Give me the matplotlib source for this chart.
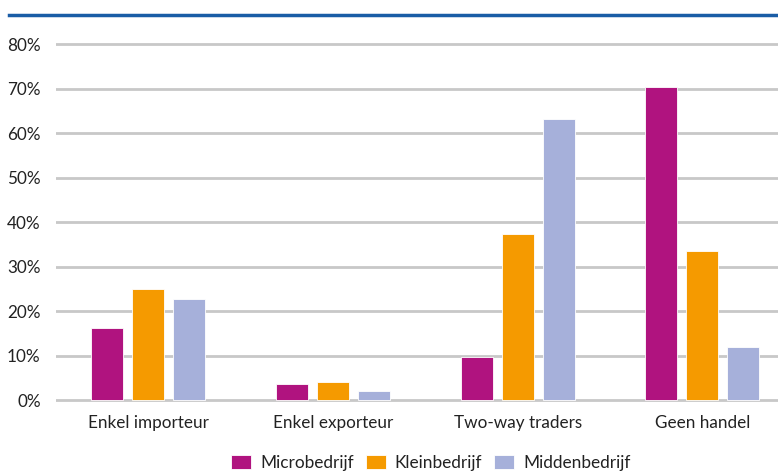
import matplotlib
matplotlib.use("Agg")
import matplotlib.pyplot as plt
import numpy as np

categories = ["Enkel importeur", "Enkel exporteur", "Two-way traders", "Geen handel"]
series_names = ["Microbedrijf", "Kleinbedrijf", "Middenbedrijf"]
micro = [16.2, 3.7, 9.6, 70.3]
klein = [24.9, 4.0, 37.4, 33.4]
midden = [22.6, 2.1, 63.2, 11.9]
yticks = [0, 10, 20, 30, 40, 50, 60, 70, 80]
ytick_labels = ["0%", "10%", "20%", "30%", "40%", "50%", "60%", "70%", "80%"]

colors = ["#b0137f", "#f59a00", "#a6b0da"]

plt.rcParams['font.family'] = ['Lato', 'DejaVu Sans']

W, H = 778, 472
fig = plt.figure(figsize=(W / 100, H / 100), dpi=100)

# axes placement in pixels
left_px, right_px = 56, 778
y0_px, y80_px = 400, 44
ppu = (y0_px - y80_px) / 80.0
ylo, yhi = -0.5, 80.5
bottom_px = y0_px + (0 - ylo) * ppu
top_px = y80_px - (yhi - 80) * ppu
ax = fig.add_axes([left_px / W, 1 - bottom_px / H, (right_px - left_px) / W, (bottom_px - top_px) / H])

x = np.arange(len(categories))
width = 0.173
step = 0.222
for i, (vals, name) in enumerate(zip([micro, klein, midden], series_names)):
    ax.bar(x + (i - 1) * step, vals, width, color=colors[i], label=name, zorder=3,
           edgecolor='white', linewidth=0.6)

ax.set_ylim(ylo, yhi)
ax.set_xlim(-0.498, 3.409)
ax.set_yticks(yticks)
ax.set_yticklabels(ytick_labels)
ax.set_xticks(x)
ax.set_xticklabels(categories)
ax.tick_params(axis='both', length=0, labelsize=12.3, colors='#222222')
ax.tick_params(axis='y', pad=11)
ax.tick_params(axis='x', pad=9)
for s in ax.spines.values():
    s.set_visible(False)
ax.yaxis.grid(True, color='#c8c8c8', linewidth=2.0, zorder=0)
ax.set_axisbelow(True)

leg = fig.legend(loc='center', bbox_to_anchor=(431 / W, 1 - 463 / H), ncol=3, frameon=False,
                 fontsize=12.4, handlelength=1.16, handleheight=0.9, handletextpad=0.52,
                 columnspacing=0.7, labelcolor='#222222')

# top blue rule
fig.add_artist(plt.Line2D([9 / W, 1.0], [1 - 14.5 / H, 1 - 14.5 / H], color='#1a5da6',
                          linewidth=2.5, transform=fig.transFigure))

fig.savefig("out.png", dpi=100)
